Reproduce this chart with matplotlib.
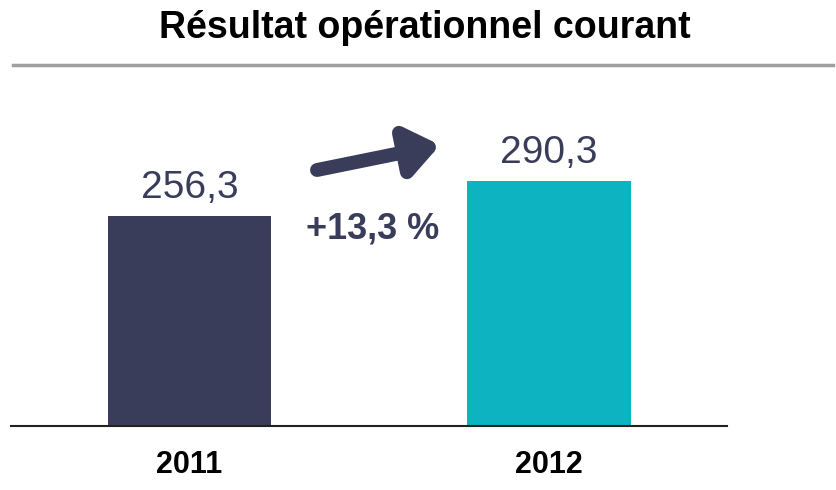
import matplotlib.pyplot as plt
from matplotlib import font_manager

years = ["2011", "2012"]
values = [256.3, 290.3]
value_labels = ["256,3", "290,3"]
growth_label = "+13,3 %"
title = "Résultat opérationnel courant"

navy = "#393d5a"
teal = "#0db3c1"

names = {f.name for f in font_manager.fontManager.ttflist}
narrow = "Liberation Sans Narrow" if "Liberation Sans Narrow" in names else "Liberation Sans"
plt.rcParams["font.family"] = ["Liberation Sans", "DejaVu Sans"]

fig = plt.figure(figsize=(8.37, 4.90), dpi=100)
W, H = 837, 490

# axes placed in pixels: baseline y=426, x from 11 to 727
ax = fig.add_axes([11 / W, (H - 426) / H, 716 / W, 326 / H])
scale = 1.03  # px per unit
ymin = 52  # the original value axis does not start at zero
ax.set_ylim(ymin, ymin + 326 / scale)
ax.set_xlim((11 - 189.5) / 359.5, (727 - 189.5) / 359.5)


def px(x, y):
    # pixel position in the picture -> data coords
    return ((x - 189.5) / 359.5, ymin + (426 - y) / scale)


pos = list(range(len(years)))
ax.bar(pos, values, width=163 / 359.5, color=[navy, teal])
for p, v, lab in zip(pos, values, value_labels):
    ax.text(p, v + 9.5, lab, ha="center", va="bottom", fontsize=28, color=navy)

for s in ["top", "right", "left"]:
    ax.spines[s].set_visible(False)
ax.spines["bottom"].set_linewidth(1.5)
ax.spines["bottom"].set_color("#222222")
ax.set_yticks([])
ax.set_xticks(pos)
ax.set_xticklabels(years, fontsize=22, fontweight="bold", family=[narrow, "DejaVu Sans"])
ax.tick_params(axis="x", length=0, pad=17)

# growth arrow and label
ax.annotate("", xy=px(440, 145), xytext=px(317, 170),
            arrowprops=dict(arrowstyle="-|>,head_length=1.9,head_width=1.45",
                            lw=10, color=navy, capstyle="round", shrinkA=0, shrinkB=0))
lx, ly = px(373, 229)
ax.text(lx, ly, growth_label, ha="center", va="center", fontsize=26,
        fontweight="bold", color=navy)

fig.text(425 / W, 1 - 28 / H, title, ha="center", va="center", fontsize=27,
         fontweight="bold", color="black")
fig.add_artist(plt.Line2D([13 / W, 833 / W], [1 - 65 / H, 1 - 65 / H],
                          color="#a0a0a0", lw=2.5))

fig.savefig("out.png", dpi=100)
